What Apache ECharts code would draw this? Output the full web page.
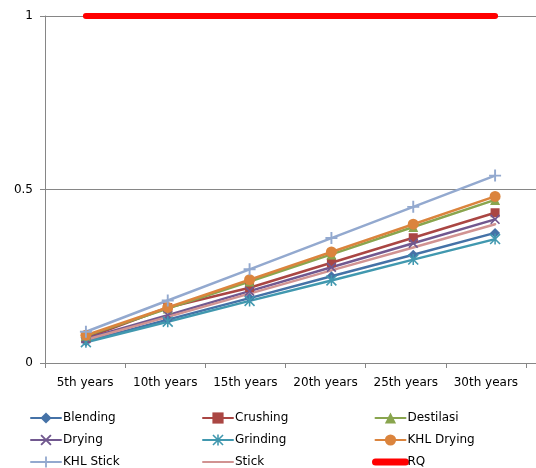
<!DOCTYPE html>
<html>
<head>
<meta charset="utf-8">
<script src="https://cdn.jsdelivr.net/npm/echarts@6/dist/echarts.min.js"></script>
<style>
  html, body { margin: 0; padding: 0; background: #fff; }
  #chart { width: 536px; height: 468px; }
</style>
</head>
<body>
<div id="chart"></div>
<script>
// Category labels and tick labels
var years = ['5th years', '10th years', '15th years', '20th years', '25th years', '30th years'];
var yTicks = { 0: '0', 0.5: '0.5', 1: '1' };

// Series values per process
var blending  = [0.062, 0.125, 0.187, 0.250, 0.312, 0.375];
var crushing  = [0.072, 0.160, 0.217, 0.289, 0.361, 0.433];
var destilasi = [0.078, 0.157, 0.235, 0.313, 0.392, 0.470];
var drying    = [0.070, 0.138, 0.207, 0.276, 0.345, 0.414];
var grinding  = [0.060, 0.119, 0.179, 0.238, 0.298, 0.357];
var khlDrying = [0.080, 0.160, 0.240, 0.320, 0.400, 0.480];
var khlStick  = [0.090, 0.180, 0.270, 0.360, 0.450, 0.540];
var stick     = [0.067, 0.133, 0.200, 0.267, 0.333, 0.400];
var rq        = [1, 1, 1, 1, 1, 1];

// Stroke-like marker shapes
var plusPath  = 'path://M4.2,0h1.6v10h-1.6z M0,4.2h10v1.6h-10z';
var crossPath = 'path://M0,1.2L1.2,0L10,8.8L8.8,10z M8.8,0L10,1.2L1.2,10L0,8.8z';
var starPath  = 'path://M4.3,0h1.4v10h-1.4z M0,1L1,0L10,9L9,10z M9,0L10,1L1,10L0,9z';

function line(name, data, color, symbol, size, width) {
  return {
    name: name,
    type: 'line',
    xAxisIndex: 0,
    yAxisIndex: 0,
    data: data,
    symbol: symbol,
    symbolSize: size,
    showSymbol: size > 0,
    lineStyle: { color: color, width: width || 2.5, cap: 'round' },
    // lines without markers keep a transparent marker so the legend shows only the stroke
    itemStyle: { color: size > 0 ? color : 'rgba(0,0,0,0)' },
    emphasis: { disabled: true },
    animation: false
  };
}

var font = 'DejaVu Sans';
var axisGray = '#868686';
var legendBase = {
  orient: 'vertical',
  top: 412,
  padding: 0,
  itemGap: 10,
  itemWidth: 30,
  itemHeight: 14,
  textStyle: { fontFamily: font, fontSize: 12, color: '#000', padding: [0, 0, 0, -3] }
};

var chart = echarts.init(document.getElementById('chart'), null, { renderer: 'canvas' });
chart.setOption({
  backgroundColor: '#fff',
  animation: false,
  grid: [
    // plotting area for the lines; runs on past the right edge
    { left: 45, width: 498, top: 16, bottom: 105, containLabel: false },
    // category scale carrying the tick marks and year labels
    { left: 45, width: 481, top: 16, bottom: 105, containLabel: false }
  ],
  xAxis: [
    {
      type: 'category', gridIndex: 0, data: years, boundaryGap: true,
      axisLine: { lineStyle: { color: axisGray, width: 1 } },
      axisTick: { show: false },
      axisLabel: { show: false }
    },
    {
      type: 'category', gridIndex: 1, data: years, boundaryGap: true,
      axisLine: { show: false },
      axisTick: { show: true, length: 5, interval: 0, lineStyle: { color: axisGray } },
      axisLabel: { interval: 0, fontFamily: font, fontSize: 12, color: '#000', margin: 14 }
    }
  ],
  yAxis: [
    {
      type: 'value', gridIndex: 0, min: 0, max: 1, interval: 0.5,
      axisLine: { show: true, lineStyle: { color: axisGray, width: 1 } },
      axisTick: { show: true, length: 5, lineStyle: { color: axisGray } },
      splitLine: { show: true, lineStyle: { color: axisGray, width: 1 } },
      axisLabel: {
        fontFamily: font, fontSize: 12, color: '#000', margin: 12,
        formatter: function (v) { return yTicks[v] !== undefined ? yTicks[v] : ''; }
      }
    },
    {
      type: 'value', gridIndex: 1, min: 0, max: 1, show: false
    }
  ],
  legend: [
    Object.assign({}, legendBase, { left: 30, data: ['Blending', 'Drying', 'KHL Stick'] }),
    Object.assign({}, legendBase, { left: 202, data: ['Crushing', 'Grinding', 'Stick'] }),
    Object.assign({}, legendBase, {
      left: 372,
      data: ['Destilasi', 'KHL Drying', { name: 'RQ', lineStyle: { width: 7, cap: 'round' } }]
    })
  ],
  series: [
    line('Blending', blending, '#4572A7', 'diamond', 10),
    line('Crushing', crushing, '#AA4643', 'rect', 9),
    line('Destilasi', destilasi, '#89A54E', 'triangle', 10),
    line('Drying', drying, '#71588F', crossPath, 10),
    line('Grinding', grinding, '#4198AF', starPath, 11),
    line('KHL Drying', khlDrying, '#DB843D', 'circle', 11),
    line('KHL Stick', khlStick, '#93A9CF', plusPath, 12),
    line('Stick', stick, '#D19392', 'circle', 0),
    line('RQ', rq, '#FF0000', 'circle', 0, 6)
  ]
});
</script>
</body>
</html>
